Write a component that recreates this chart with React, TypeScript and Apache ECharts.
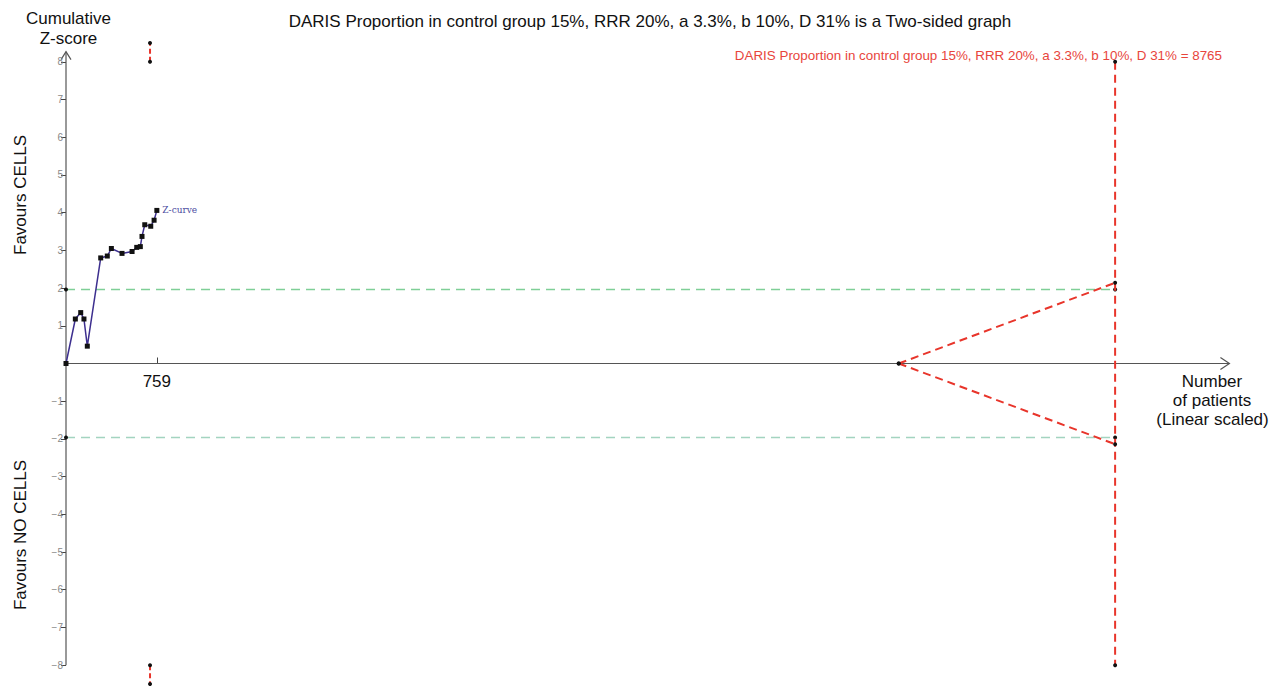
import React, { useEffect, useRef } from "react";
import * as echarts from "echarts";

// ---- data ----
const zCurveN = [0, 78, 123, 150, 178, 290, 345, 379, 468, 552, 591, 621, 635, 658, 708, 736, 759];
const zCurveZ = [0, 1.18, 1.35, 1.18, 0.46, 2.8, 2.85, 3.05, 2.92, 2.97, 3.08, 3.1, 3.37, 3.68, 3.64, 3.8, 4.06];
const requiredInfoSize = 8765;
const conventionalZ = 1.96;
const futilityStartN = 6957;
const futilityEndZ = 2.14;
const truncatedBoundaryN = 702;
const truncatedBoundaryZ = [8, 8.5];
const yTickValues = [-8, -7, -6, -5, -4, -3, -2, -1, 1, 2, 3, 4, 5, 6, 7, 8];
const xTickValues = [759];
const xAxisEnd = 9720;
const yAxisTop = 8.27;
const yAxisBottom = -8;

const FONT = "Liberation Sans, Arial, sans-serif";
const RED = "#e8352b";

export default function App() {
  const ref = useRef<HTMLDivElement>(null);
  useEffect(() => {
    if (!ref.current) return;
    const chart = echarts.init(ref.current, null, { renderer: "svg" });
    const dot = { symbol: "circle", symbolSize: 4, itemStyle: { color: "#111" } };
    const option: any = {
      animation: false,
      grid: { left: 66, top: 43, width: 1173, height: 641, containLabel: false, outerBoundsMode: "none" },
      xAxis: {
        type: "value",
        min: 0,
        max: 9800,
        axisLine: { show: true, onZero: true, lineStyle: { color: "rgba(0,0,0,0)" } },
        splitLine: { show: false },
        axisTick: { show: true, inside: true, length: 6, customValues: xTickValues, lineStyle: { color: "#444" } },
        axisLabel: { show: false },
      },
      yAxis: {
        type: "value",
        min: -8.5,
        max: 8.5,
        axisLine: { show: true, onZero: false, lineStyle: { color: "rgba(0,0,0,0)" } },
        splitLine: { show: false },
        axisTick: { show: true, length: 5, customValues: yTickValues, lineStyle: { color: "#444" } },
        axisLabel: {
          customValues: yTickValues,
          fontSize: 10,
          color: "#888",
          fontFamily: FONT,
          margin: 3,
          formatter: (v: number) => (v < 0 ? "\u2212" + Math.abs(v) : String(v)),
        },
      },
      series: [
        {
          name: "xaxis",
          type: "line",
          data: [[0, 0], [xAxisEnd, 0]],
          symbol: "none",
          lineStyle: { color: "#555", width: 1.2 },
          silent: true,
          z: 1,
        },
        {
          name: "yaxis",
          type: "line",
          data: [[0, yAxisBottom], [0, yAxisTop]],
          symbol: "none",
          lineStyle: { color: "#555", width: 1.2 },
          silent: true,
          z: 1,
        },
        {
          name: "upper conventional",
          type: "line",
          data: [[0, conventionalZ], [requiredInfoSize, conventionalZ]],
          ...dot,
          lineStyle: { color: "#7fcf97", width: 1.5, type: [9, 6] },
          z: 2,
        },
        {
          name: "lower conventional",
          type: "line",
          data: [[0, -conventionalZ], [requiredInfoSize, -conventionalZ]],
          ...dot,
          lineStyle: { color: "#a3d4c0", width: 1.5, type: [9, 6] },
          z: 2,
        },
        {
          name: "futility upper",
          type: "line",
          data: [[futilityStartN, 0], [requiredInfoSize, futilityEndZ]],
          ...dot,
          lineStyle: { color: RED, width: 2, type: [8, 5] },
          z: 3,
        },
        {
          name: "futility lower",
          type: "line",
          data: [[futilityStartN, 0], [requiredInfoSize, -futilityEndZ]],
          ...dot,
          lineStyle: { color: RED, width: 2, type: [8, 5] },
          z: 3,
        },
        {
          name: "RIS",
          type: "line",
          data: [[requiredInfoSize, 8], [requiredInfoSize, -8]],
          ...dot,
          lineStyle: { color: RED, width: 2, type: [8, 5] },
          z: 3,
        },
        {
          name: "boundary upper",
          type: "line",
          data: truncatedBoundaryZ.map((z) => [truncatedBoundaryN, z]),
          ...dot,
          lineStyle: { color: RED, width: 2, type: [5, 3] },
          z: 3,
        },
        {
          name: "boundary lower",
          type: "line",
          data: truncatedBoundaryZ.map((z) => [truncatedBoundaryN, -z]),
          ...dot,
          lineStyle: { color: RED, width: 2, type: [5, 3] },
          z: 3,
        },
        {
          name: "Z-curve",
          type: "line",
          data: zCurveN.map((n, i) =>
            i === zCurveN.length - 1
              ? {
                  value: [n, zCurveZ[i]],
                  label: {
                    show: true,
                    position: "right",
                    distance: 3,
                    formatter: "Z-curve",
                    color: "#4a4aa0",
                    fontSize: 9,
                    fontFamily: "DejaVu Serif, serif",
                  },
                }
              : [n, zCurveZ[i]]
          ),
          symbol: "rect",
          symbolSize: 5,
          itemStyle: { color: "#111" },
          lineStyle: { color: "#3d2f8f", width: 1.5 },
          z: 5,
        },
      ],
    };
    chart.setOption(option);

    const xTip = chart.convertToPixel({ gridIndex: 0 }, [xAxisEnd, 0]) as number[];
    const yTip = chart.convertToPixel({ gridIndex: 0 }, [0, yAxisTop]) as number[];
    const tickPos = xTickValues.map((v) => chart.convertToPixel({ gridIndex: 0 }, [v, 0]) as number[]);
    const arrowStyle = { stroke: "#555", lineWidth: 1.2, fill: "none" };
    const textStyle = (t: string, x: number, y: number, size: number, color = "#111", align = "center") => ({
      type: "text",
      x,
      y,
      style: { text: t, fontSize: size, fill: color, fontFamily: FONT, align, verticalAlign: "middle" },
    });
    chart.setOption({
      graphic: [
        {
          type: "polyline",
          shape: { points: [[xTip[0] - 9, xTip[1] - 6], [xTip[0], xTip[1]], [xTip[0] - 9, xTip[1] + 6]] },
          style: arrowStyle,
        },
        {
          type: "polyline",
          shape: { points: [[yTip[0] - 5, yTip[1] + 8], [yTip[0], yTip[1]], [yTip[0] + 5, yTip[1] + 8]] },
          style: arrowStyle,
        },
        ...tickPos.map((p, i) => textStyle(String(xTickValues[i]), p[0], p[1] + 18, 17)),
        textStyle(
          "DARIS Proportion in control group 15%, RRR 20%, a 3.3%, b 10%, D 31% is a Two-sided graph",
          650,
          21,
          17
        ),
        textStyle(
          "DARIS Proportion in control group 15%, RRR 20%, a 3.3%, b 10%, D 31% = 8765",
          1222,
          55,
          13.4,
          "#e8453c",
          "right"
        ),
        textStyle("Cumulative", 68.5, 18, 17),
        textStyle("Z-score", 68.5, 38, 17),
        textStyle("Number", 1212, 381.5, 17),
        textStyle("of patients", 1212, 400, 17),
        textStyle("(Linear scaled)", 1212.5, 419.5, 17),
        {
          type: "text",
          x: 20,
          y: 195,
          rotation: Math.PI / 2,
          style: { text: "Favours CELLS", fontSize: 17, fill: "#111", fontFamily: FONT, align: "center", verticalAlign: "middle" },
        },
        {
          type: "text",
          x: 20,
          y: 535,
          rotation: Math.PI / 2,
          style: { text: "Favours NO CELLS", fontSize: 17, fill: "#111", fontFamily: FONT, align: "center", verticalAlign: "middle" },
        },
      ],
    });
    return () => chart.dispose();
  }, []);
  return (
    <div
      ref={ref}
      style={{ position: "absolute", left: 0, top: 0, width: 1283, height: 686, background: "#fff" }}
    />
  );
}
